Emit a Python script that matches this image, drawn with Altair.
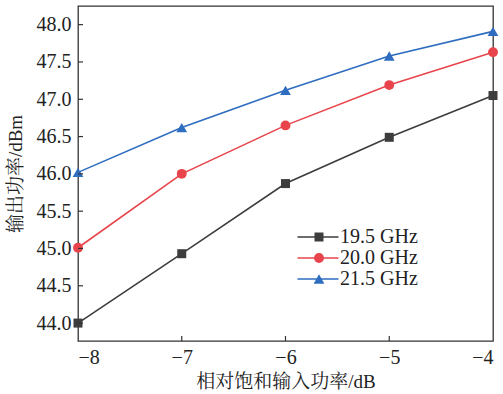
import altair as alt
import pandas as pd

x_vals = [-8, -7, -6, -5, -4]
series = ["19.5 GHz", "20.0 GHz", "21.5 GHz"]
y_195 = [44.0, 44.93, 45.87, 46.49, 47.05]
y_200 = [45.01, 46.0, 46.65, 47.19, 47.63]
y_215 = [46.02, 46.62, 47.12, 47.58, 47.91]
colors = ["#3d3d3d", "#e8444b", "#2e6dbf"]
x_ticks = [-8, -7, -6, -5, -4]
y_ticks = [44.0, 44.5, 45.0, 45.5, 46.0, 46.5, 47.0, 47.5, 48.0]

rows = []
for name, ys in zip(series, [y_195, y_200, y_215]):
    for xv, yv in zip(x_vals, ys):
        rows.append({"x": xv, "y": yv, "s": name})
df = pd.DataFrame(rows)

FONT = "Times New Roman, Liberation Serif, Noto Serif CJK SC, Noto Sans CJK SC"
W, H = 415, 335
XD = [-8, -4]
YD = [43.76, 48.25]

xs = alt.Scale(domain=XD, nice=False, zero=False)
ys_ = alt.Scale(domain=YD, nice=False, zero=False)
cscale = alt.Scale(domain=series, range=colors)

x_enc = alt.X("x:Q", scale=xs, axis=alt.Axis(
    values=x_ticks, format="d", labelExpr="replace(datum.label, '-', '\u2212')",
    title="相对饱和输入功率/dB", ticks=False, domain=False, grid=False,
    labelFont=FONT, labelFontSize=20, labelColor="#222", labelPadding=6,
    titleFont=FONT, titleFontSize=19, titleFontWeight="normal", titleColor="#222",
    titleBaseline="middle", titleY=40))
y_enc = alt.Y("y:Q", scale=ys_, axis=alt.Axis(
    values=y_ticks, format=".1f", title="输出功率/dBm", ticks=False, domain=False, grid=False,
    labelFont=FONT, labelFontSize=20, labelColor="#222", labelPadding=7,
    titleFont=FONT, titleFontSize=19, titleFontWeight="normal", titleColor="#222",
    titleBaseline="middle", titleX=-63, titleAngle=-90))

LEG_Y = 221
lines = alt.Chart(df).mark_line(strokeWidth=1.6).encode(
    x=x_enc, y=y_enc,
    color=alt.Color("s:N", scale=cscale, legend=alt.Legend(
        title=None, orient="none", legendX=230, legendY=LEG_Y,
        symbolType="M-3.42,0L3.42,0", symbolSize=144, symbolStrokeWidth=1.6,
        labelOffset=12, rowPadding=1)))

pleg = dict(title=None, orient="none", legendX=231, legendY=LEG_Y,
            symbolSize=100, labelOpacity=0, labelOffset=12, rowPadding=1)
points = alt.Chart(df).mark_point(filled=True, opacity=1).encode(
    x="x:Q", y="y:Q",
    color=alt.Color("s:N", scale=cscale, legend=alt.Legend(**pleg)),
    shape=alt.Shape("s:N", scale=alt.Scale(domain=series, range=["square", "circle", "triangle-up"]),
                    legend=alt.Legend(**pleg)),
    size=alt.Size("s:N", scale=alt.Scale(domain=series, range=[81, 115, 145]), legend=None))

xt = pd.DataFrame({"t": x_ticks[1:-1]})
yt = pd.DataFrame({"t": y_ticks})
xtick = alt.Chart(xt).mark_rule(color="#333", strokeWidth=1.2).encode(
    x=alt.X("t:Q", scale=xs), y=alt.value(H), y2=alt.value(H - 5))
ytick = alt.Chart(yt).mark_rule(color="#333", strokeWidth=1.2).encode(
    y=alt.Y("t:Q", scale=ys_), x=alt.value(0), x2=alt.value(5))

chart = alt.layer(lines, points, xtick, ytick).resolve_scale(
    color="independent", shape="independent", size="independent"
).properties(
    width=W, height=H,
    autosize=alt.AutoSizeParams(type="none"),
    padding={"left": 78, "top": 6, "right": 10, "bottom": 53},
    background="white",
).configure_view(
    stroke="#333", strokeWidth=1.3
).configure_legend(
    labelFont=FONT, labelFontSize=20, labelColor="#222", padding=0,
)

chart.save("out.html", embed_options={"renderer": "svg", "actions": False})
